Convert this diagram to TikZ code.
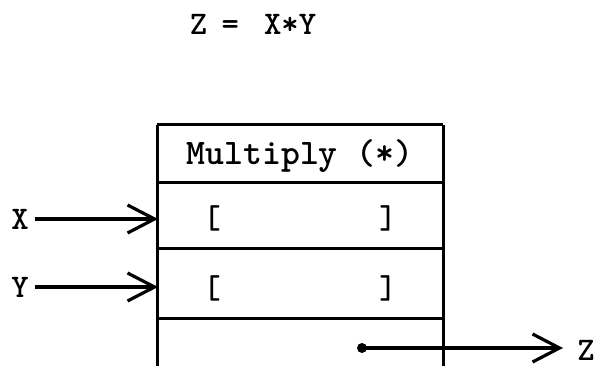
\documentclass[tikz,border=0pt]{standalone}
\usetikzlibrary{arrows.meta}
\begin{document}
\begin{tikzpicture}[x=1pt,y=-1pt,
  tw/.style={font=\ttfamily\bfseries\fontsize{33}{33}\selectfont, inner sep=0pt, anchor=base},
  boxline/.style={line width=3pt},
  barb/.style={-{Straight Barb[length=27pt,width=28pt,line width=3.2pt]}, line width=3.2pt}]
\useasboundingbox (0,0) rectangle (594,366);
% title
\node[tw] (title) at (253,35) {Z\hspace{-3pt} = \hspace{8pt}X*Y};
% box
\coordinate (tl) at (157,125);
\coordinate (tr) at (443,125);
\coordinate (bl) at (157,368);
\coordinate (br) at (443,368);
\draw[boxline] (tl) -- (bl);
\draw[boxline] (tr) -- (br);
\draw[boxline] (tl) -- (tr);
\draw[boxline] (157,183) -- (443,183);
\draw[boxline] (157,248) -- (443,248);
\draw[boxline] (157,318) -- (443,318);
\node[tw, font=\ttfamily\bfseries\fontsize{36}{36}\selectfont] (op) at (300,165) {Multiply (*)};
% brackets
\node[tw] (xl) at (212,229) {[};
\node[tw] (xr) at (388,229) {]};
\node[tw] (yl) at (212,298) {[};
\node[tw] (yr) at (388,298) {]};
% inputs
\node[tw, anchor=center] (X) at (20,219) {X};
\node[tw, anchor=center] (Y) at (20,287) {Y};
\coordinate (xin) at (158,219);
\coordinate (yin) at (158,287);
\draw[barb] (X.east) ++(6,0) coordinate (xs) -- (xin);
\draw[barb] (Y.east) ++(6,0) coordinate (ys) -- (yin);
% output
\node[tw, anchor=center] (Z) at (586,350) {Z};
\fill (362,348) circle (5pt) coordinate (zdot);
\coordinate (zend) at (563,348);
\draw[barb] (zdot) -- (zend);
\end{tikzpicture}
\end{document}
